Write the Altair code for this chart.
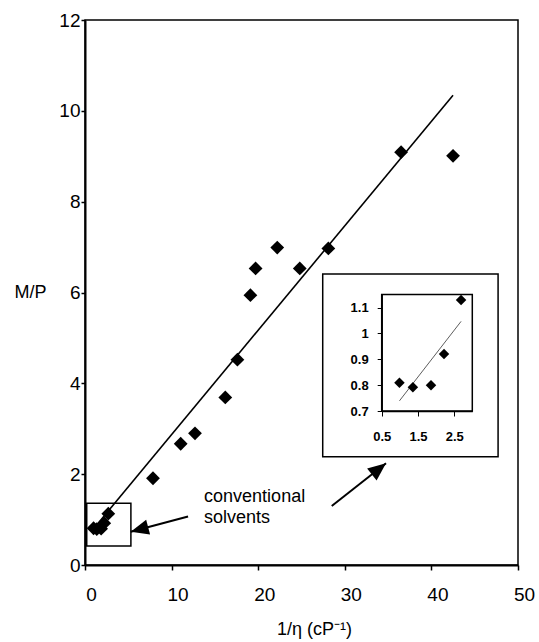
import math

import altair as alt
import pandas as pd

# Conventional solvents (also shown enlarged in the inset)
conv_x = [0.99, 1.36, 1.86, 2.22, 2.69]
conv_y = [0.809, 0.792, 0.800, 0.920, 1.129]
# Viscous media
visc_x = [7.85, 11.05, 12.7, 16.2, 17.6, 19.1, 19.7, 22.2, 24.8, 28.1, 36.5, 42.5]
visc_y = [1.91, 2.67, 2.90, 3.69, 4.52, 5.94, 6.53, 6.99, 6.53, 6.97, 9.09, 9.01]

x_ticks = [0, 10, 20, 30, 40, 50]
y_ticks = [0, 2, 4, 6, 8, 10, 12]
inset_x_ticks = [0.5, 1.5, 2.5]
inset_y_ticks = [0.7, 0.8, 0.9, 1.0, 1.1]
inset_x_domain = [0.5, 3.0]
inset_y_domain = [0.7, 1.15]

# Annotations, in data units of the main axes
zoom_box = {"x": 0.2, "x2": 5.3, "y": 0.42, "y2": 1.36}
inset_frame = {"x": 27.45, "x2": 47.7, "y": 2.385, "y2": 6.41}
label_lines = ["conventional", "solvents"]
label_x = [13.75, 13.75]
label_y = [1.394, 0.925]
arrow_tail_x = [11.9, 28.49]
arrow_tail_y = [1.068, 1.30]
arrow_tip_x = [5.28, 34.76]
arrow_tip_y = [0.733, 2.239]

# Layout
W, H = 433, 545
PAD = {"left": 85, "top": 20, "right": 21, "bottom": 77}
FONT = "Liberation Sans"
INSET_X_RANGE = [296.7, 387.3]
INSET_Y_RANGE = [391, 274.6]
ARROW_HEAD = "M0,0L0.85,2L-0.85,2Z"

pts = pd.DataFrame({"x": conv_x + visc_x, "y": conv_y + visc_y})
conv = pd.DataFrame({"ix": conv_x, "iy": conv_y})

main_x = alt.Scale(domain=[0, 50], nice=False, zero=False)
main_y = alt.Scale(domain=[0, 12], nice=False, zero=False)

common_axis = dict(
    grid=False, tickColor="black", domainColor="black", labelColor="black",
    labelFont=FONT, titleFont=FONT, titleColor="black", titleFontWeight="normal",
    labelOverlap=False, labelFlush=False,
)

x_axis = alt.Axis(
    values=x_ticks, orient="bottom", tickSize=5, tickWidth=1.5, domainWidth=2,
    labelFontSize=19, labelPadding=15, labelOffset=6,
    titleFontSize=18, titleX=229, titleY=69, titleAlign="center",
    titleBaseline="alphabetic", **common_axis,
)
y_axis = alt.Axis(
    values=y_ticks, orient="left", tickSize=4, tickWidth=1.5, domainWidth=2,
    labelFontSize=19, labelPadding=1,
    titleFontSize=18, titleAngle=0, titleX=-55, titleY=272, titleAlign="center",
    titleBaseline="middle", **common_axis,
)

X_TITLE = "1/η (cP⁻¹)"
Y_TITLE = "M/P"


def mx(field):
    return alt.X(f"{field}:Q", scale=main_x, axis=x_axis, title=X_TITLE)


def my(field):
    return alt.Y(f"{field}:Q", scale=main_y, axis=y_axis, title=Y_TITLE)


points = alt.Chart(pts).mark_point(
    shape="diamond", filled=True, size=190, color="black", opacity=1
).encode(x=mx("x"), y=my("y"))

fit = alt.Chart(pts).transform_regression("x", "y").mark_line(
    color="black", strokeWidth=1.6
).encode(x=mx("x"), y=my("y"))

box = alt.Chart(pd.DataFrame([zoom_box])).mark_rect(
    fillOpacity=0, stroke="black", strokeWidth=1.5
).encode(x=mx("x"), x2="x2:Q", y=my("y"), y2="y2:Q")

frame = alt.Chart(pd.DataFrame([inset_frame])).mark_rect(
    fill="white", stroke="black", strokeWidth=1.5
).encode(x=mx("x"), x2="x2:Q", y=my("y"), y2="y2:Q")

labels = alt.Chart(pd.DataFrame({"x": label_x, "y": label_y, "t": label_lines})).mark_text(
    align="left", baseline="alphabetic", fontSize=18, font=FONT, color="black"
).encode(x=mx("x"), y=my("y"), text="t:N")

# Arrow heads point from tail to tip; rotation is clockwise from "up" in pixels
px_x = W / 50
px_y = H / 12
angles = []
for tx, ty, hx, hy in zip(arrow_tail_x, arrow_tail_y, arrow_tip_x, arrow_tip_y):
    dx = (hx - tx) * px_x
    dy = -(hy - ty) * px_y
    angles.append(math.degrees(math.atan2(dx, -dy)) % 360)

arrows = pd.DataFrame({
    "x": arrow_tail_x, "y": arrow_tail_y,
    "x2": arrow_tip_x, "y2": arrow_tip_y, "angle": angles,
})
shafts = alt.Chart(arrows).mark_rule(color="black", strokeWidth=2).encode(
    x=mx("x"), y=my("y"), x2="x2:Q", y2="y2:Q"
)
heads = alt.Chart(arrows).mark_point(
    shape=ARROW_HEAD, filled=True, size=324, color="black", opacity=1
).encode(
    x=mx("x2"), y=my("y2"),
    angle=alt.Angle("angle:Q", scale=None),
)

main = alt.layer(box, fit, points, labels, shafts, heads, frame)

# Inset: enlarged view of the conventional solvents
ix_scale = alt.Scale(domain=inset_x_domain, range=INSET_X_RANGE, nice=False, zero=False)
iy_scale = alt.Scale(domain=inset_y_domain, range=INSET_Y_RANGE, nice=False, zero=False)

ix_axis = alt.Axis(
    values=inset_x_ticks, orient="bottom", offset=-154, tickSize=5, tickWidth=1,
    domainWidth=1.5, labelFontSize=13, labelFontWeight="bold", labelPadding=14,
    format=".1f", title=None, zindex=2, **common_axis,
)
iy_axis = alt.Axis(
    values=inset_y_ticks, orient="left", offset=-296.7, tickSize=4.5, tickWidth=1,
    domainWidth=1.5, labelFontSize=13, labelFontWeight="bold", labelPadding=9,
    format=".1~f", title=None, zindex=2, **common_axis,
)


def ix(field):
    return alt.X(f"{field}:Q", scale=ix_scale, axis=ix_axis, title=None)


def iy(field):
    return alt.Y(f"{field}:Q", scale=iy_scale, axis=iy_axis, title=None)


inner = alt.Chart(pd.DataFrame([{
    "ix": inset_x_domain[0], "ix2": inset_x_domain[1],
    "iy": inset_y_domain[0], "iy2": inset_y_domain[1],
}])).mark_rect(fillOpacity=0, stroke="black", strokeWidth=1.5).encode(
    x=ix("ix"), x2="ix2:Q", y=iy("iy"), y2="iy2:Q"
)

inset_fit = alt.Chart(conv).transform_regression("ix", "iy").mark_line(
    color="#333333", strokeWidth=0.8
).encode(x=ix("ix"), y=iy("iy"))

inset_pts = alt.Chart(conv).mark_point(
    shape="diamond", filled=True, size=110, color="black", opacity=1
).encode(x=ix("ix"), y=iy("iy"))

inset = alt.layer(inner, inset_fit, inset_pts)

chart = (
    alt.layer(main, inset)
    .resolve_scale(x="independent", y="independent")
    .properties(
        width=W, height=H, padding=PAD,
        autosize=alt.AutoSizeParams(type="none"),
        background="white",
    )
    .configure(font=FONT)
    .configure_view(stroke="black", strokeWidth=1.5)
)

chart.save("out.html", embed_options={"renderer": "svg", "actions": False})
